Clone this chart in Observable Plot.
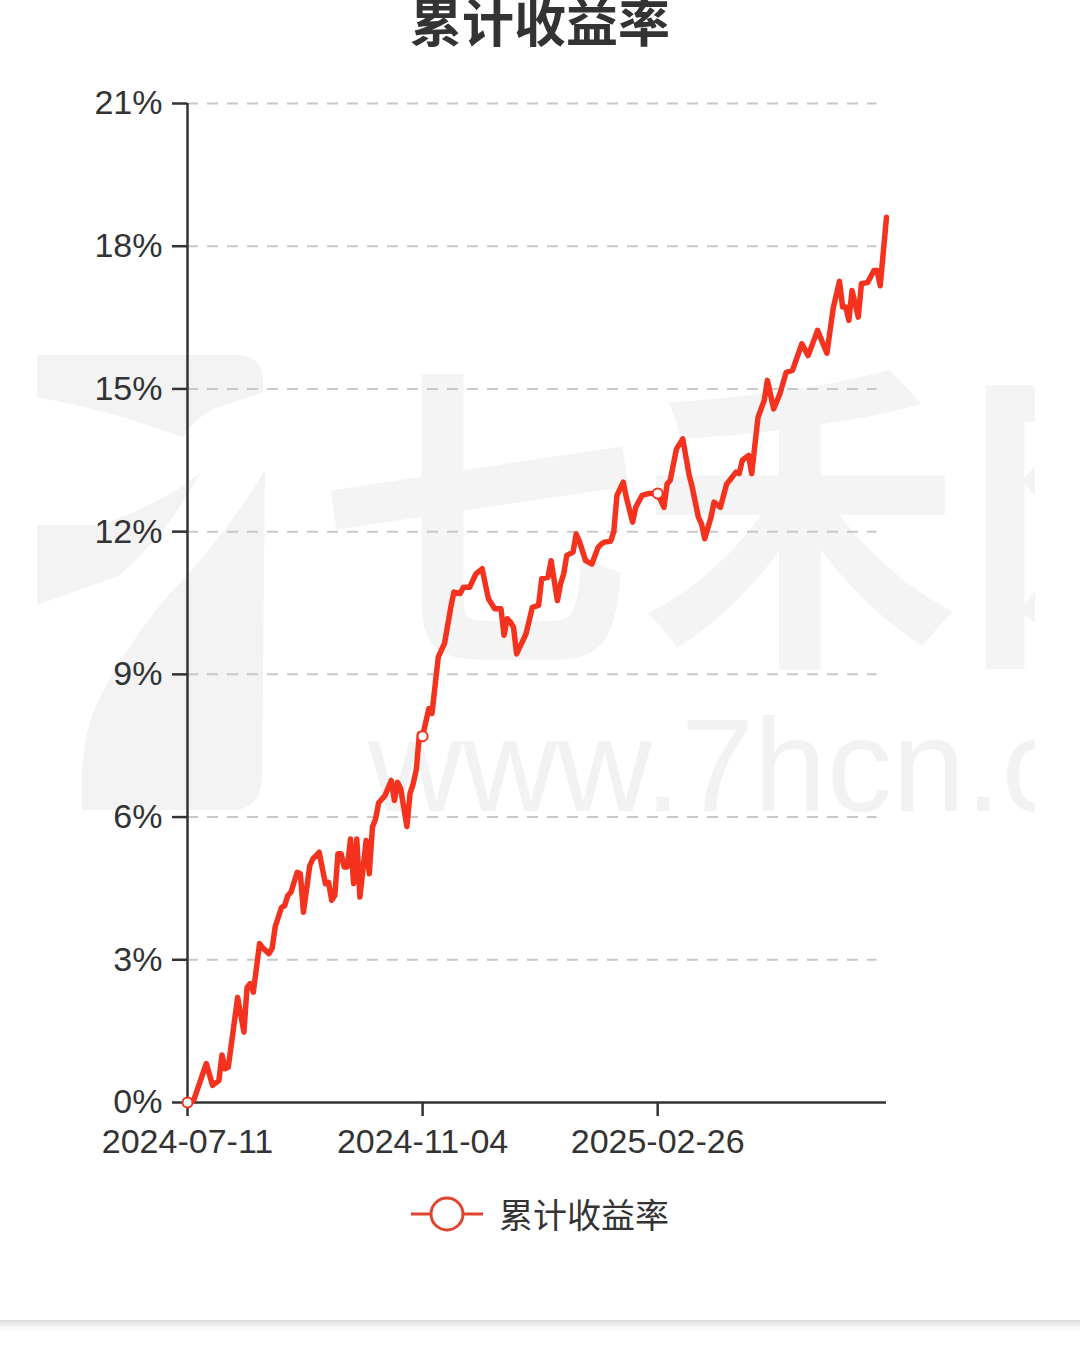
<!DOCTYPE html>
<html>
<head>
<meta charset="utf-8">
<script src="https://cdn.jsdelivr.net/npm/d3@7"></script>
<script src="https://cdn.jsdelivr.net/npm/@observablehq/plot@0.6"></script>
<style>
  html, body { margin: 0; padding: 0; background: #fff; }
  #root { position: relative; width: 1080px; height: 1349px; overflow: hidden; background: #fff; }
  #logo { position: absolute; left: 0; top: 0; pointer-events: none; }
  #wm { position: absolute; left: 35px; top: 340px; width: 1000px; height: 480px; overflow: hidden; pointer-events: none; }
  #wm .big { position: absolute; left: 282px; top: 0px; font-family: "Noto Sans CJK SC"; font-weight: 700; font-size: 322px; line-height: 1; color: #f4f4f4; white-space: nowrap; }
  #wm .url { position: absolute; left: 333px; top: 360px; font-family: "Liberation Sans", Arial, sans-serif; font-size: 131px; line-height: 1; color: #f2f2f2; white-space: nowrap; }
  #title { position: absolute; left: 0; width: 1080px; top: -18px; text-align: center; font-family: "Noto Sans CJK SC"; font-weight: 700; font-size: 52px; color: #333; }
  #chart { position: absolute; left: 0; top: 0; }
  #legend { position: absolute; left: 0; top: 1194px; width: 1080px; display: flex; justify-content: center; align-items: center; font-family: "Noto Sans CJK SC"; font-size: 34px; color: #333; }
  #legend span { margin-left: 16px; line-height: 1; }
  #bottombar { position: absolute; left: 0; top: 1320px; width: 1080px; height: 12px; background: linear-gradient(#dcdcdc, #f6f6f6 60%, #fff); }
</style>
</head>
<body>
<div id="root">
  <svg id="logo" width="300" height="830" viewBox="0 0 300 830">
    <path d="M37,355 L240,355 Q262,358 263,378 L263,392 Q240,400 215,408 Q195,418 183,437 Q110,410 37,397 Z" fill="#f3f3f3"/>
    <path d="M37,525 L100,525 Q160,505 200,473 Q170,530 120,575 Q80,590 37,605 Z" fill="#f3f3f3"/>
    <path d="M265,470 L262,780 Q260,808 235,810 L82,810 Q78,740 100,697 Q130,640 167,597 Q230,530 265,470 Z" fill="#f3f3f3"/>
  </svg>
  <div id="wm"><div class="big">七禾网</div><div class="url">www.7hcn.com</div></div>
  <div id="chart"></div>
  <div id="title">累计收益率</div>
  <div id="legend"></div>
  <div id="bottombar"></div>
</div>
<script>
const seriesName = "累计收益率";
const tickLabels = ["2024-07-11", "2024-11-04", "2025-02-26"];
const tickDays = [0, 75, 150];
const lastDay = 223;
const yTicks = [0, 3, 6, 9, 12, 15, 18, 21];

const days = [0,2,6,8,10,11,12,13,16,18,19,20,21,23,24,26,27,28,30,31,32,33,35,36,37,39,40,42,44,45,46,47,48,49,50,51,52,53,54,55,57,58,59,60,61,63,65,66,67,68,70,71,72,73,74,75,77,78,80,82,84,85,87,88,90,92,94,96,98,100,101,102,103,104,105,108,110,112,113,115,116,117,118,119,120,121,123,124,125,127,129,131,132,133,135,136,137,139,140,142,143,145,147,150,152,153,154,156,158,160,161,163,164,165,167,168,170,172,173,175,176,177,179,180,182,183,184,185,187,189,191,193,196,198,201,204,206,208,209,210,211,212,214,215,217,219,220,221,223];
const returns = [0.00,0.05,0.82,0.36,0.46,1.00,0.71,0.74,2.21,1.48,2.42,2.50,2.32,3.34,3.25,3.13,3.24,3.70,4.10,4.14,4.35,4.42,4.84,4.81,4.00,4.98,5.12,5.26,4.60,4.63,4.25,4.35,5.23,5.23,4.95,4.95,5.54,4.60,5.54,4.32,5.51,4.81,5.79,5.96,6.30,6.45,6.77,6.35,6.73,6.60,5.80,6.50,6.70,7.00,7.75,7.70,8.28,8.18,9.36,9.65,10.41,10.73,10.70,10.83,10.83,11.11,11.22,10.59,10.38,10.38,9.82,10.17,10.10,9.99,9.43,9.85,10.41,10.45,11.01,11.04,11.39,10.97,10.55,10.90,11.11,11.50,11.57,11.95,11.80,11.39,11.32,11.67,11.74,11.78,11.80,12.00,12.76,13.04,12.72,12.20,12.51,12.76,12.80,12.80,12.51,13.00,13.08,13.74,13.95,13.20,12.94,12.30,12.16,11.85,12.30,12.62,12.51,13.00,13.08,13.25,13.22,13.50,13.60,13.22,14.40,14.58,14.76,15.18,14.58,14.90,15.35,15.39,15.95,15.70,16.23,15.75,16.70,17.26,16.72,16.72,16.44,17.07,16.51,17.21,17.24,17.49,17.49,17.17,18.61];

const data = days.map((d, i) => ({day: d, value: returns[i]}));
const markers = data.filter(d => tickDays.includes(d.day));

const lineColor = "#f4321e";
const font = "'Liberation Sans', Arial, sans-serif";

const chart = Plot.plot({
  width: 1080,
  height: 1180,
  marginTop: 103,
  marginBottom: 78,
  marginLeft: 187,
  marginRight: 194,
  style: {background: "transparent", fontFamily: font, color: "#333", overflow: "visible"},
  x: {domain: [0, lastDay], range: [187, 886]},
  y: {domain: [0, 21], range: [1102, 103]},
  marks: [
    Plot.gridY(yTicks.slice(1), {stroke: "#c8c8c8", strokeOpacity: 1, strokeWidth: 2, strokeDasharray: "11,9", x1: 0, x2: 220}),
    Plot.axisY(yTicks, {tickFormat: d => d + "%", fontSize: 34, tickSize: 15, tickPadding: 10, stroke: "#333", strokeWidth: 2.5, fill: "#333", label: null}),
    Plot.axisX(tickDays, {tickFormat: (d, i) => tickLabels[i], fontSize: 34, tickSize: 14, tickPadding: 12, stroke: "#333", strokeWidth: 2.5, fill: "#333", label: null}),
    Plot.ruleX([0], {stroke: "#333", strokeWidth: 2.5}),
    Plot.ruleY([0], {stroke: "#333", strokeWidth: 2.5}),
    Plot.line(data, {x: "day", y: "value", stroke: lineColor, strokeWidth: 5.5, strokeLinejoin: "round"}),
    Plot.dot(markers, {x: "day", y: "value", r: 5, fill: "white", stroke: lineColor, strokeWidth: 2})
  ]
});
document.getElementById("chart").appendChild(chart);

const legend = document.getElementById("legend");
legend.innerHTML = `<svg width="72" height="40" viewBox="0 0 72 40"><line x1="0" y1="20" x2="72" y2="20" stroke="#e0452f" stroke-width="3"/><circle cx="36" cy="20" r="16" fill="white" stroke="#e0452f" stroke-width="3"/></svg><span>${seriesName}</span>`;
</script>
</body>
</html>
